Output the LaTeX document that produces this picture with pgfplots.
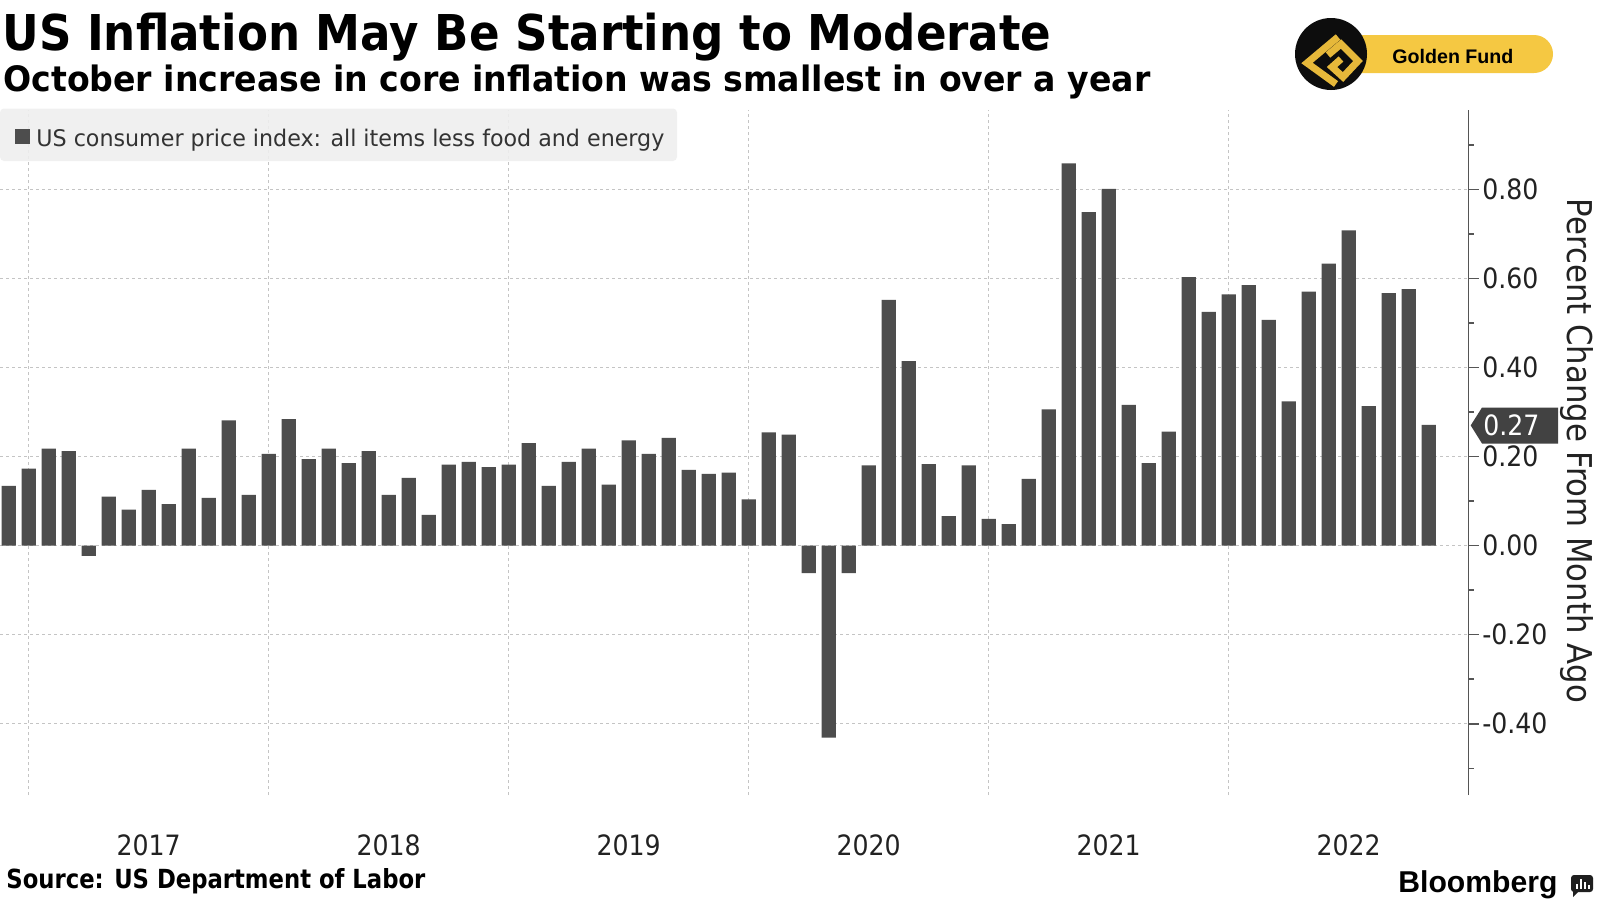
\documentclass[border=0pt]{standalone}
\usepackage{pgfplots}
\pgfplotsset{compat=1.18}
\usepackage{pgfplotstable}
\usepackage{graphicx}
\usepackage{fontspec}
\setmainfont{DejaVu Sans Condensed}[BoldFont={DejaVu Sans Condensed Bold}]
\newfontfamily\arialfont{Liberation Sans}
\definecolor{barcol}{HTML}{4D4D4D}
\definecolor{gridcol}{HTML}{C4C4C4}
\definecolor{txtcol}{HTML}{222222}
\definecolor{legtxt}{HTML}{333333}
\definecolor{legbg}{HTML}{EFEFEF}
\definecolor{gold}{HTML}{F5C842}
\definecolor{goldlogo}{HTML}{E6B83A}
\definecolor{axcol}{HTML}{555555}

\pgfplotstableread{
i v
0 0.134
1 0.173
2 0.218
3 0.212
4 -0.023
5 0.110
6 0.081
7 0.125
8 0.093
9 0.218
10 0.107
11 0.281
12 0.114
13 0.206
14 0.284
15 0.194
16 0.218
17 0.185
18 0.212
19 0.114
20 0.152
21 0.069
22 0.182
23 0.188
24 0.176
25 0.182
26 0.230
27 0.134
28 0.188
29 0.218
30 0.137
31 0.236
32 0.206
33 0.242
34 0.170
35 0.161
36 0.164
37 0.104
38 0.254
39 0.249
40 -0.062
41 -0.431
42 -0.062
43 0.180
44 0.552
45 0.414
46 0.183
47 0.066
48 0.180
49 0.060
50 0.048
51 0.150
52 0.306
53 0.858
54 0.749
55 0.801
56 0.316
57 0.185
58 0.256
59 0.603
60 0.525
61 0.564
62 0.585
63 0.507
64 0.324
65 0.570
66 0.633
67 0.708
68 0.313
69 0.567
70 0.576
71 0.271
}\cpidata

\begin{document}
\begin{tikzpicture}
\fill[white] (0,0) rectangle (800pt,-450pt);
\path[use as bounding box] (0,0) rectangle (800pt,-450pt);
\begin{axis}[
  at={(0pt,-397.5pt)}, anchor=south west,
  scale only axis, width=734.35pt, height=342.5pt,
  xmin=-0.435, xmax=73.0, ymin=-0.56, ymax=0.978,
  axis y line*=right, axis x line*=bottom,
  x axis line style={draw=none},
  y axis line style={draw=axcol, line width=0.75pt},
  xtick={1,13,25,37,49,61}, xticklabels={},
  extra x ticks={7,19,31,43,55,67},
  extra x tick labels={2017,2018,2019,2020,2021,2022},
  extra x tick style={grid=none, major tick length=0pt,
     tick label style={anchor=center, yshift=-25pt}},
  xtick style={draw=none},
  ytick={-0.4,-0.2,0,0.2,0.4,0.6,0.8},
  minor ytick={-0.5,-0.3,-0.1,0.1,0.3,0.5,0.7,0.9},
  ytick style={draw=axcol, line width=0.75pt},
  tick align=outside,
  major tick length=5pt, minor tick length=2.5pt,
  xmajorgrids, ymajorgrids,
  major grid style={draw=gridcol, line width=0.5pt, dash pattern=on 1.5pt off 1.5pt},
  ticklabel style={font=\fontsize{14}{16}\selectfont, text=txtcol},
  yticklabel style={anchor=west, inner sep=0pt, xshift=1.6pt,
     /pgf/number format/.cd, fixed, fixed zerofill, precision=2, assume math mode=true},
  clip=true,
]
\addplot[ybar, bar width=7.2pt, fill=barcol, draw=none] table[x=i, y=v]{\cpidata};
\end{axis}

\begin{scope}[x=0.5pt, y=-0.5pt]
  % legend box
  \fill[legbg, fill opacity=0.88, rounded corners=2pt] (0,108.5) rectangle (677,161);
  \fill[barcol] (15,129) rectangle (30,144);
  \node[anchor=base west, inner sep=0pt, text=legtxt] at (36,146)
     {\resizebox{314pt}{8.7pt}{US consumer price index: all items less food and energy}};
  % titles
  \node[anchor=base west, inner sep=0pt, text=black] at (2,50)
     {\resizebox{524.5pt}{18.75pt}{\bfseries US Inflation May Be Starting to Moderate}};
  \node[anchor=base west, inner sep=0pt, text=black] at (3,91.7)
     {\resizebox{573.5pt}{13.3pt}{\bfseries October increase in core inflation was smallest in over a year}};
  % source
  \node[anchor=base west, inner sep=0pt, text=black] at (6,888)
     {\resizebox{209.5pt}{10pt}{\bfseries Source: US Department of Labor}};
  % y axis label
  \node[rotate=-90, inner sep=0pt, text=txtcol] at (1577,451)
     {\resizebox{252pt}{!}{Percent Change From Month Ago}};
  % callout 0.27
  \fill[barcol!85!black] (1470.7,425.4) -- (1482,407.5) -- (1558,407.5) -- (1558,443.5) -- (1482,443.5) -- cycle;
  \node[anchor=west, inner sep=0pt, text=white, font=\fontsize{14}{16}\selectfont] at (1483,425.4) {0.27};
  % Golden Fund badge
  \fill[gold, rounded corners=9.5pt] (1330,35) rectangle (1553,73);
  \fill[black!95] (1331,54) circle (18pt);
  \draw[goldlogo, line width=3.5pt, miter limit=4] (1338,37) -- (1307,63) -- (1336,84);
  \draw[goldlogo, line width=3.5pt, miter limit=4] (1328,55) -- (1341,44) -- (1358,61) -- (1343,77) -- (1332,67) -- (1341,59);
  \node[anchor=base west, inner sep=0pt, text=black] at (1392,63)
     {\resizebox{60.5pt}{!}{\arialfont\bfseries Golden Fund}};
  % Bloomberg logo
  \node[anchor=base west, inner sep=0pt, text=black] at (1398,892)
     {\resizebox{79.5pt}{!}{\arialfont\bfseries Bloomberg}};
  \fill[black!88, rounded corners=1.5pt] (1571,875) rectangle (1593,892);
  \fill[black!88] (1573,891) -- (1579,891) -- (1573,897) -- cycle;
  \fill[white] (1575.5,884) rectangle (1577.5,889);
  \fill[white] (1579.5,879) rectangle (1581.5,889);
  \fill[white] (1583.5,882) rectangle (1585.5,889);
  \fill[white] (1587.5,885) rectangle (1589.5,889);
\end{scope}
\end{tikzpicture}
\end{document}
